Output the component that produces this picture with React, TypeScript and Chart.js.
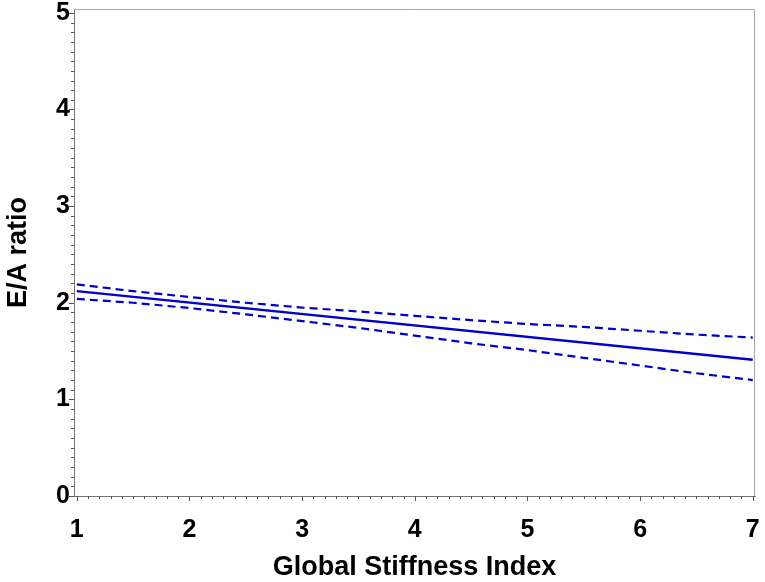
import { useRef, useEffect } from "react";
import Chart from "chart.js/auto";

// regression of E/A ratio on Global Stiffness Index, with 95% confidence limits
const fitX = [1, 7];
const fitY = [2.12, 1.41];

const clX = [1, 1.5, 2, 2.5, 3, 3.5, 4, 4.5, 5, 5.5, 6, 6.5, 7];
const upperCL = [2.19, 2.12, 2.06, 2.0, 1.95, 1.91, 1.865, 1.82, 1.78, 1.75, 1.71, 1.67, 1.64];
const lowerCL = [2.04, 2.0, 1.945, 1.88, 1.81, 1.74, 1.66, 1.58, 1.51, 1.43, 1.35, 1.27, 1.2];

const xTicks = [1, 2, 3, 4, 5, 6, 7];
const yTicks = [0, 1, 2, 3, 4, 5];
const MINOR_PER_MAJOR = 10;

const BLUE = "#0000c8";
const FONT = "'Liberation Sans', Arial, sans-serif";

const toPoints = (xs: number[], ys: number[]) => xs.map((x, i) => ({ x, y: ys[i] }));

const frameTicks = {
  id: "frameTicks",
  afterDraw(chart: any) {
    const { ctx, chartArea } = chart;
    const xs = chart.scales.x;
    const ys = chart.scales.y;
    ctx.save();
    // top and right frame
    ctx.strokeStyle = "#a8a8a8";
    ctx.lineWidth = 1;
    ctx.beginPath();
    ctx.moveTo(chartArea.left, chartArea.top + 0.5);
    ctx.lineTo(chartArea.right - 0.5, chartArea.top + 0.5);
    ctx.lineTo(chartArea.right - 0.5, chartArea.bottom);
    ctx.stroke();
    // major and minor tick marks
    ctx.strokeStyle = "#555";
    ctx.beginPath();
    const x0 = xTicks[0];
    const x1 = xTicks[xTicks.length - 1];
    const nx = (x1 - x0) * MINOR_PER_MAJOR;
    for (let i = 0; i <= nx; i++) {
      const v = x0 + i / MINOR_PER_MAJOR;
      const px = Math.round(xs.getPixelForValue(v)) + 0.5;
      const len = i % MINOR_PER_MAJOR === 0 ? 5 : 3;
      ctx.moveTo(px, chartArea.bottom);
      ctx.lineTo(px, chartArea.bottom + len);
    }
    const y0 = yTicks[0];
    const y1 = yTicks[yTicks.length - 1];
    const ny = (y1 - y0) * MINOR_PER_MAJOR;
    for (let i = 0; i <= ny; i++) {
      const v = y0 + i / MINOR_PER_MAJOR;
      const py = Math.round(ys.getPixelForValue(v)) + 0.5;
      const len = i % MINOR_PER_MAJOR === 0 ? 5 : 3;
      ctx.moveTo(chartArea.left, py);
      ctx.lineTo(chartArea.left - len, py);
    }
    ctx.stroke();
    ctx.restore();
  },
};

export default function App() {
  const canvasRef = useRef<HTMLCanvasElement>(null);
  const chartRef = useRef<Chart | null>(null);

  useEffect(() => {
    document.body.style.margin = "0";
    if (!canvasRef.current) return;
    const ctx = canvasRef.current.getContext("2d");
    if (!ctx) return;

    if (chartRef.current) chartRef.current.destroy();

    chartRef.current = new Chart(ctx, {
      type: "line",
      data: {
        datasets: [
          {
            label: "Predicted",
            data: toPoints(fitX, fitY),
            borderColor: BLUE,
            borderWidth: 2.4,
            pointRadius: 0,
          },
          {
            label: "Upper 95% CL",
            data: toPoints(clX, upperCL),
            borderColor: BLUE,
            borderWidth: 2.2,
            borderDash: [8, 5],
            pointRadius: 0,
          },
          {
            label: "Lower 95% CL",
            data: toPoints(clX, lowerCL),
            borderColor: BLUE,
            borderWidth: 2.2,
            borderDash: [8, 5],
            pointRadius: 0,
          },
        ],
      },
      options: {
        responsive: false,
        animation: false,
        layout: { padding: { top: 9, right: 10, left: 0, bottom: 0 } },
        plugins: {
          legend: { display: false },
          tooltip: { enabled: false },
        },
        scales: {
          x: {
            type: "linear",
            min: 0.975,
            max: 7.02,
            afterBuildTicks: (s: any) => {
              s.ticks = xTicks.map((value) => ({ value }));
            },
            afterFit: (s: any) => {
              s.height = 86;
              s.paddingLeft = 0;
              s.paddingRight = 0;
            },
            grid: { display: false, drawTicks: false },
            border: { display: true, color: "#777", width: 1 },
            ticks: {
              color: "#000",
              padding: 19,
              font: { family: FONT, size: 25, weight: "bold" },
            },
            title: {
              display: true,
              text: "Global Stiffness Index",
              color: "#000",
              font: { family: FONT, size: 27, weight: "bold", lineHeight: 1.04 },
              padding: 0,
            },
          },
          y: {
            min: 0,
            max: 5.04,
            afterBuildTicks: (s: any) => {
              s.ticks = yTicks.map((value) => ({ value }));
            },
            afterFit: (s: any) => {
              s.width = 74;
              s.paddingTop = 0;
              s.paddingBottom = 0;
            },
            grid: { display: false, drawTicks: false },
            border: { display: true, color: "#777", width: 1 },
            ticks: {
              color: "#000",
              padding: 4,
              font: { family: FONT, size: 25, weight: "bold" },
            },
            title: {
              display: true,
              text: "E/A ratio",
              color: "#000",
              font: { family: FONT, size: 27, weight: "bold", lineHeight: 1.2 },
              padding: { top: 2, bottom: 0 },
            },
          },
        },
      },
      plugins: [frameTicks],
    });

    return () => {
      if (chartRef.current) {
        chartRef.current.destroy();
        chartRef.current = null;
      }
    };
  }, []);

  return (
    <div style={{ width: 765, height: 582, background: "#fff" }}>
      <canvas ref={canvasRef} width={765} height={582} />
    </div>
  );
}
